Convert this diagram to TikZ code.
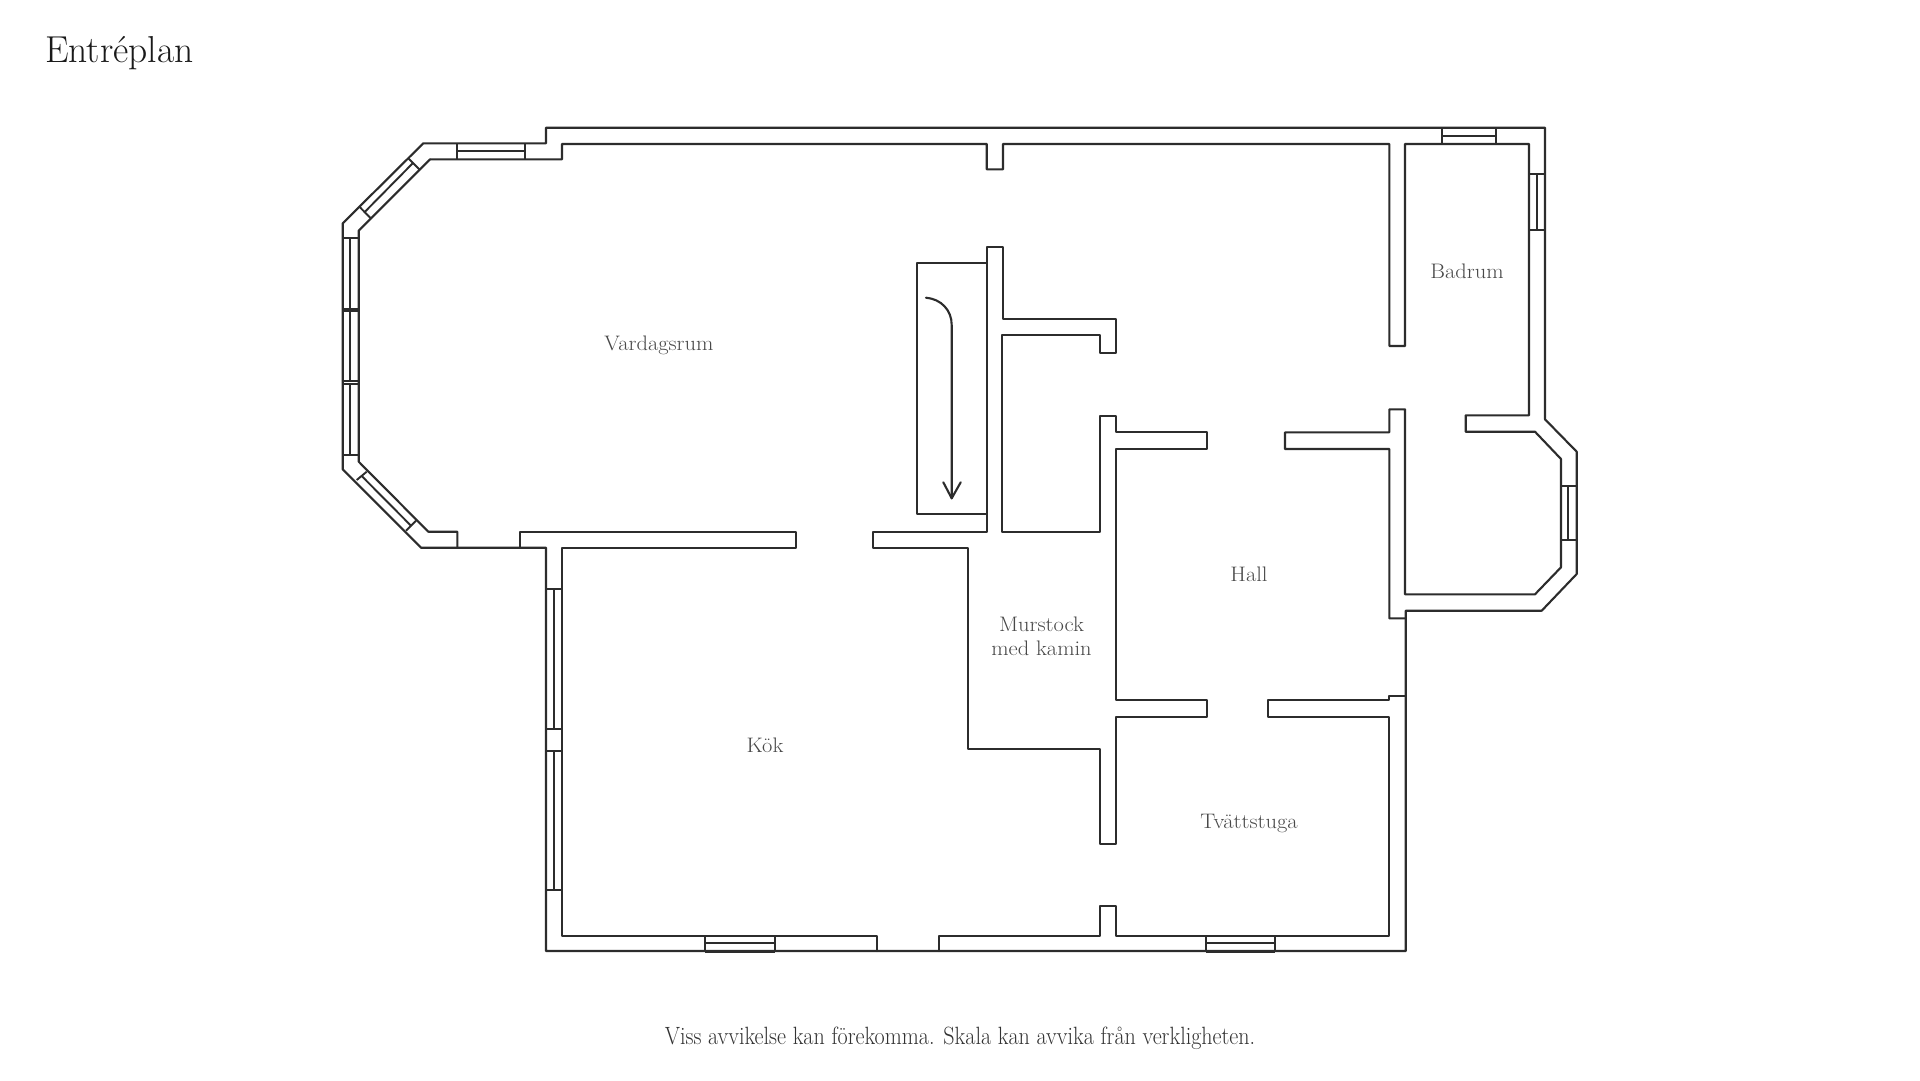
\documentclass[tikz,border=0pt]{standalone}
\usepackage{graphicx}
\definecolor{wallc}{HTML}{2C2C2C}
\definecolor{labelc}{HTML}{484848}
\definecolor{headc}{HTML}{1A1A1A}
\newcommand{\rlab}[1]{\scalebox{1.07}[1]{#1}}
\tikzset{
  wall/.style={draw=wallc,line width=2.1pt,line join=round,line cap=round},
  win/.style={draw=wallc,line width=1.9pt,line cap=butt},
  roomlabel/.style={text=labelc,font=\fontsize{21}{24.3}\selectfont,inner sep=0pt,align=center},
}
\begin{document}
\begin{tikzpicture}[x=1pt,y=-1pt]
\useasboundingbox (0,0) rectangle (1920,1080);
\fill[white] (0,0) rectangle (1920,1080);
% outer outline
\draw[wall] (546,127.7) -- (1545,127.7) -- (1545,419.3) -- (1576.7,451.7) -- (1576.7,574) -- (1541.7,610.7) -- (1405.7,610.7) -- (1405.7,951) -- (546,951) -- (546,547.7) -- (421,547.7) -- (342.7,469.3) -- (342.7,223.3) -- (423.3,143.3) -- (546,143.3) -- cycle;
% inner outlines
\draw[wall] (430,159.3) -- (358.7,230.7) -- (358.7,461.7) -- (428.3,531.7) -- (457.3,531.7) -- (457.3,547.7);
\draw[wall] (430,159.3) -- (562,159.3) -- (562,144) -- (986.7,144) -- (986.7,169.3) -- (1003,169.3) -- (1003,144) -- (1389.3,144) -- (1389.3,346) -- (1405,346) -- (1405,144) -- (1529,144) -- (1529,415.3) -- (1465.7,415.3) -- (1465.7,431.7) -- (1535,431.7) -- (1561,459) -- (1561,567.3) -- (1535,594.3) -- (1405,594.3) -- (1405,409.3) -- (1389.3,409.3) -- (1389.3,432.3) -- (1285,432.3) -- (1285,449) -- (1389.3,449) -- (1389.3,618.3) -- (1405.7,618.3);
\draw[wall] (520,547.7) -- (520,532) -- (796,532) -- (796,548.3) -- (561.7,548.3) -- (561.7,935.7) -- (876.7,935.7) -- (876.7,951);
\draw[wall] (939.3,951) -- (939.3,935.7) -- (1100,935.7) -- (1100,906) -- (1116,906) -- (1116,935.7) -- (1389.3,935.7) -- (1389.3,716.7) -- (1268.3,716.7) -- (1268.3,700) -- (1389.3,700) -- (1389.3,696) -- (1405.7,696);
% central wall
\draw[wall] (986.7,246.7) -- (1003.3,246.7) -- (1003.3,319) -- (1116,319) -- (1116,353.3) -- (1100,353.3) -- (1100,335) -- (1002.3,335) -- (1002.3,532.3) -- (1100,532.3) -- (1100,416) -- (1116,416) -- (1116,432.3) -- (1207.3,432.3) -- (1207.3,449) -- (1116,449) -- (1116,700) -- (1206.7,700) -- (1206.7,716.7) -- (1116,716.7) -- (1116,844) -- (1100,844) -- (1100,748.7) -- (968.3,748.7) -- (968.3,548.3) -- (873.3,548.3) -- (873.3,532) -- (986.7,532) -- cycle;
% stair
\draw[wall] (986.7,263.3) -- (917.3,263.3) -- (917.3,514) -- (986.7,514);
\draw[wall] (926,297.7) .. controls (941,299) and (951.7,310) .. (951.7,325) -- (951.7,498.3);
\draw[wall] (943.3,482.3) -- (951.7,498.3) -- (960.7,482.3);
% windows: top left
\draw[win] (456.7,143.3) -- (456.7,159.3) (525,143.3) -- (525,159.3) (456.7,151) -- (525,151);
% diagonal top left
\draw[win] (408.3,158.3) -- (419.3,169.3) (360,207.3) -- (370.7,218.3) (412.7,163.3) -- (365,211.7);
% left side
\draw[win] (342.7,238.3) -- (358.7,238.3) (342.7,308.7) -- (358.7,308.7) (342.7,311.3) -- (358.7,311.3) (342.7,381) -- (358.7,381) (342.7,384.3) -- (358.7,384.3) (342.7,455) -- (358.7,455);
\draw[win] (350.3,238.3) -- (350.3,308.7) (350.3,311.3) -- (350.3,381) (350.3,384.3) -- (350.3,455);
% diagonal bottom left
\draw[win] (356.7,480) -- (366.7,471.7) (406,530.7) -- (416,520.7) (361.7,476) -- (411,525.7);
% kitchen left
\draw[win] (546,589.3) -- (561.7,589.3) (546,729) -- (561.7,729) (554,589.3) -- (554,729);
\draw[win] (546,750.7) -- (561.7,750.7) (546,890) -- (561.7,890) (554,750.7) -- (554,890);
% bottom
\draw[win] (705,935.7) -- (705,951.5) (775,935.7) -- (775,951.5) (705,943.3) -- (775,943.3) (705,952) -- (775,952);
\draw[win] (1206,935.7) -- (1206,951.5) (1275,935.7) -- (1275,951.5) (1206,943.3) -- (1275,943.3) (1206,952) -- (1275,952);
% bathroom
\draw[win] (1441.7,127.7) -- (1441.7,144) (1495.7,127.7) -- (1495.7,144) (1441.7,135.7) -- (1495.7,135.7);
\draw[win] (1529,174) -- (1546,174) (1529,230) -- (1546,230) (1536.7,174) -- (1536.7,230);
\draw[win] (1561,485.7) -- (1577.5,485.7) (1561,540) -- (1577.5,540) (1568,485.7) -- (1568,540);
% labels
\node[roomlabel] (vardagsrum) at (659,345) {\rlab{Vardagsrum}};
\node[roomlabel] (badrum) at (1467,271) {\rlab{Badrum}};
\node[roomlabel] (hall) at (1249,574) {\rlab{Hall}};
\node[roomlabel] (murstock) at (1041.5,636) {\rlab{Murstock}\\\rlab{med kamin}};
\node[roomlabel] (tvatt) at (1249,823) {\rlab{Tvättstuga}};
\node[roomlabel] (kok) at (765,745) {\rlab{Kök}};
\node[anchor=base west,inner sep=0pt,text=headc,font=\fontsize{37.5}{40}\selectfont] (title) at (45,62) {Entréplan};
\node[anchor=base,inner sep=0pt,text=labelc!70!black,font=\fontsize{25}{30}\selectfont] (foot) at (960,1044) {\scalebox{0.883}[1]{Viss avvikelse kan förekomma. Skala kan avvika från verkligheten.}};
\end{tikzpicture}
\end{document}
